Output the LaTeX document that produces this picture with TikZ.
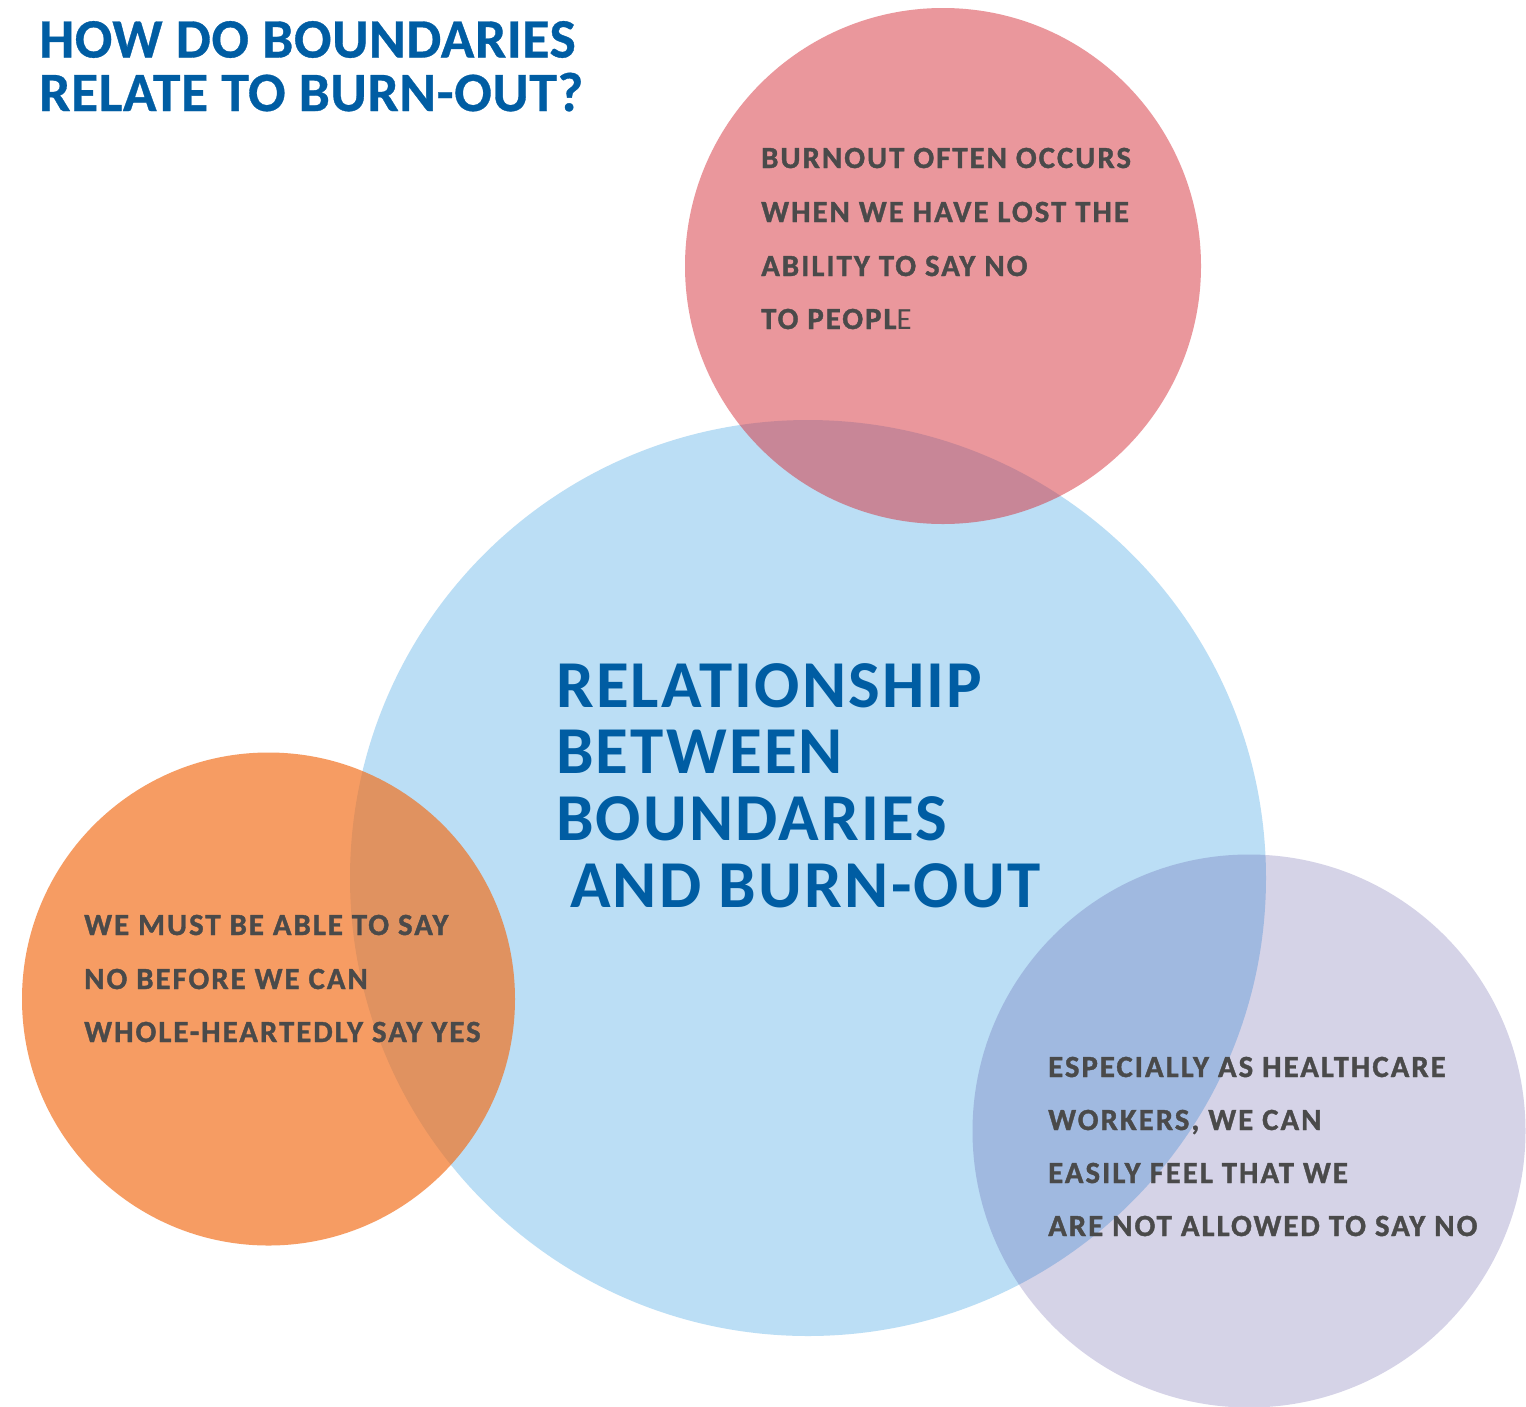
\documentclass[tikz,border=0pt]{standalone}
\usepackage{fontspec}
\setmainfont{Carlito}
\newfontfamily\titlef[LetterSpace=1.2,BoldFeatures={FakeBold=0.6}]{Carlito}
\newfontfamily\centerf[LetterSpace=3.3]{Carlito}
\newfontfamily\smallf[LetterSpace=6.5,BoldFeatures={FakeBold=1.2}]{Carlito}
\definecolor{bigblue}{RGB}{187,222,245}
\definecolor{pinkbase}{RGB}{214,48,58}
\definecolor{orangebase}{RGB}{242,110,26}
\definecolor{lavbase}{RGB}{68,55,150}
\definecolor{headblue}{RGB}{0,93,163}
\definecolor{txtgray}{RGB}{74,74,74}
\tikzset{
  disc/.style={circle, inner sep=0pt, draw=none},
  titletxt/.style={anchor=base west, inner sep=0pt, text=headblue, font=\titlef\bfseries\fontsize{55.5}{60}\selectfont},
  centertxt/.style={anchor=base west, inner sep=0pt, text=headblue, font=\centerf\bfseries\fontsize{67}{72}\selectfont},
  smalltxt/.style={anchor=base west, inner sep=0pt, text=txtgray, font=\smallf\bfseries\fontsize{30.8}{34}\selectfont},
}
\begin{document}
\begin{tikzpicture}[x=1pt,y=-1pt]
\useasboundingbox (0,0) rectangle (1526,1406);
\fill[white] (0,0) rectangle (1526,1406);
% circles
\node[disc, fill=bigblue, minimum size=916pt] (blue) at (808,878) {};
\node[disc, fill=pinkbase, fill opacity=0.5, minimum size=516pt] (pink) at (943,266) {};
\node[disc, fill=orangebase, fill opacity=0.68, minimum size=493pt] (orange) at (268.5,999) {};
\node[disc, fill=lavbase, fill opacity=0.22, minimum size=553pt] (lav) at (1249,1131) {};
% title
\node[titletxt] (t1) at (39,57.5) {HOW DO BOUNDARIES};
\node[titletxt] (t2) at (39,111) {RELATE TO BURN-OUT?};
% centre
\node[centertxt] (c1) at (556,707) {RELATIONSHIP};
\node[centertxt] (c2) at (556,773) {BETWEEN};
\node[centertxt] (c3) at (556,840) {BOUNDARIES};
\node[centertxt] (c4) at (570,907) {AND BURN-OUT};
% pink
\node[smalltxt] (p1) at (761,168) {BURNOUT OFTEN OCCURS};
\node[smalltxt] (p2) at (761,222) {WHEN WE HAVE LOST THE};
\node[smalltxt] (p3) at (761,276) {ABILITY TO SAY NO};
\node[smalltxt] (p4) at (761,329) {TO PEOPL{\mdseries E}};
% orange
\node[smalltxt] (o1) at (84,935) {WE MUST BE ABLE TO SAY};
\node[smalltxt] (o2) at (84,989) {NO BEFORE WE CAN};
\node[smalltxt] (o3) at (84,1042) {WHOLE-HEARTEDLY SAY YES};
% lavender
\node[smalltxt] (l1) at (1048,1077) {ESPECIALLY AS HEALTHCARE};
\node[smalltxt] (l2) at (1048,1130) {WORKERS, WE CAN};
\node[smalltxt] (l3) at (1048,1183) {EASILY FEEL THAT WE};
\node[smalltxt] (l4) at (1048,1236) {ARE NOT ALLOWED TO SAY NO};
\end{tikzpicture}
\end{document}
